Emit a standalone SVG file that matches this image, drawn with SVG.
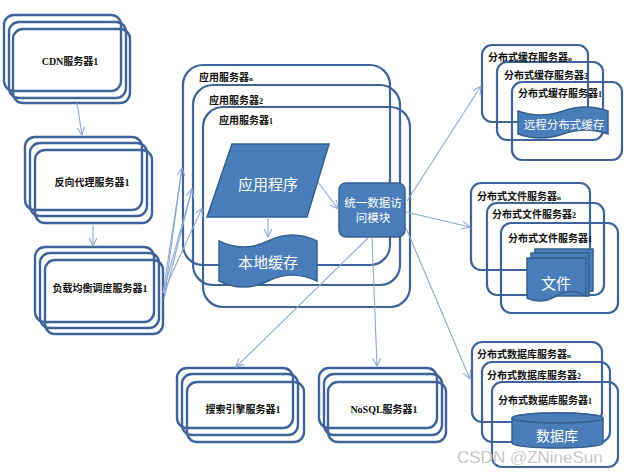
<svg xmlns="http://www.w3.org/2000/svg" width="628" height="474" viewBox="0 0 628 474">
<defs>
<style>
.box{fill:none;stroke:#3e6499;stroke-width:2.4}
.grp{fill:none;stroke:#3e6499;stroke-width:2.2}
.shape{fill:#4a7ebb;stroke:#36608f;stroke-width:1.5}
.lbl{font-family:"Liberation Serif","Noto Sans CJK SC",serif;font-weight:bold;font-size:10px;fill:#111}
.mid{text-anchor:middle}
.wt{font-family:"Liberation Serif","Noto Sans CJK SC",serif;fill:#fff;text-anchor:middle}
.con{fill:none;stroke:#8eaad4;stroke-width:1.1}
</style>
<marker id="ah" markerWidth="9" markerHeight="9" refX="8" refY="4" orient="auto" markerUnits="userSpaceOnUse">
<path d="M0,0 L8,4 L0,8" fill="none" stroke="#8eaad4" stroke-width="1.1"/>
</marker>
</defs>
<rect width="628" height="474" fill="#fff"/>

<g id="cdn">
<rect class="box" x="4" y="15" width="117" height="76" rx="10"/>
<rect class="box" x="9" y="22" width="117" height="76" rx="10"/>
<rect class="box" x="13" y="29" width="117" height="74" rx="10"/>
<text class="lbl mid" x="70" y="65">CDN服务器1</text>
</g>

<g id="proxy">
<rect class="box" x="25" y="137" width="117" height="73" rx="10"/>
<rect class="box" x="30" y="143" width="117" height="73" rx="10"/>
<rect class="box" x="35" y="150" width="117" height="73" rx="10"/>
<text class="lbl mid" x="92" y="186">反向代理服务器1</text>
</g>

<g id="lb">
<rect class="box" x="35" y="247" width="119" height="75" rx="10"/>
<rect class="box" x="40" y="253" width="119" height="75" rx="10"/>
<rect class="box" x="45" y="260" width="118" height="74" rx="10"/>
<text class="lbl mid" x="100" y="292">负载均衡调度服务器1</text>
</g>

<g id="search">
<rect class="box" x="177" y="368" width="116" height="60" rx="10"/>
<rect class="box" x="182" y="374" width="116" height="61" rx="10"/>
<rect class="box" x="187" y="382" width="117" height="60" rx="10"/>
<text class="lbl mid" x="243" y="413">搜索引擎服务器1</text>
</g>

<g id="nosql">
<rect class="box" x="319" y="368" width="118" height="60" rx="10"/>
<rect class="box" x="324" y="374" width="118" height="61" rx="10"/>
<rect class="box" x="328" y="382" width="118" height="60" rx="10"/>
<text class="lbl mid" x="384" y="413">NoSQL服务器1</text>
</g>

<g id="app-servers">
<rect class="grp" x="183" y="65" width="207" height="200" rx="20"/>
<rect class="grp" x="193" y="85" width="207" height="200" rx="20"/>
<rect class="grp" x="203" y="107" width="207" height="200" rx="20"/>
<text class="lbl" x="199" y="81">应用服务器<tspan font-size="7">n</tspan></text>
<text class="lbl" x="209" y="104">应用服务器<tspan font-size="8">2</tspan></text>
<text class="lbl" x="219" y="124">应用服务器<tspan font-size="8">1</tspan></text>
</g>

<g id="app-program">
<polygon class="shape" points="232,144 329,144 307,217 207,217"/>
<text class="wt" x="268" y="190" font-size="15">应用程序</text>
</g>

<g id="local-cache">
<path class="shape" d="M219,241 Q243.5,253 268,241 Q292.5,229 317,241 L317,281 Q292.5,269 268,281 Q243.5,293 219,281 Z"/>
<text class="wt" x="268" y="268" font-size="15">本地缓存</text>
</g>

<g id="data-access">
<rect class="shape" x="339" y="183" width="66" height="54" rx="7"/>
<text class="wt" x="373" y="207" font-size="11.5">统一数据访</text>
<text class="wt" x="373" y="222" font-size="11.5">问模块</text>
</g>

<g id="cache-servers">
<rect class="grp" x="482" y="45" width="106" height="77" rx="10"/>
<rect class="grp" x="497" y="62" width="106" height="78" rx="10"/>
<rect class="grp" x="512" y="82" width="110" height="78" rx="10"/>
<text class="lbl" x="488" y="61">分布式缓存服务器<tspan font-size="7">n</tspan></text>
<text class="lbl" x="504" y="79">分布式缓存服务器<tspan font-size="8">2</tspan></text>
<text class="lbl" x="518" y="97">分布式缓存服务器<tspan font-size="8">1</tspan></text>
<path class="shape" d="M518,111 Q540.5,119 563,111 Q585.5,103 608,111 L608,134 Q585.5,126 563,134 Q540.5,142 518,134 Z"/>
<text class="wt" x="564" y="129" font-size="11.5">远程分布式缓存</text>
</g>

<g id="file-servers">
<rect class="grp" x="471" y="183" width="119" height="87" rx="10"/>
<rect class="grp" x="487" y="203" width="117" height="92" rx="10"/>
<rect class="grp" x="501" y="223" width="117" height="90" rx="10"/>
<text class="lbl" x="477" y="200">分布式文件服务器<tspan font-size="7">n</tspan></text>
<text class="lbl" x="492" y="218">分布式文件服务器<tspan font-size="8">2</tspan></text>
<text class="lbl" x="508" y="242">分布式文件服务器<tspan font-size="8">1</tspan></text>
<rect class="shape" x="535" y="249" width="58" height="42"/>
<rect class="shape" x="531" y="253" width="58" height="43"/>
<path class="shape" d="M527,258 H586 V296 Q571,287 556,296 Q541,305 527,298 Z"/>
<text class="wt" x="556" y="289" font-size="15">文件</text>
</g>

<g id="db-servers">
<rect class="grp" x="472" y="342" width="130" height="80" rx="10"/>
<rect class="grp" x="482" y="362" width="128" height="80" rx="10"/>
<rect class="grp" x="492" y="382" width="126" height="85" rx="10"/>
<text class="lbl" x="477" y="358">分布式数据库服务器<tspan font-size="7">n</tspan></text>
<text class="lbl" x="487" y="379">分布式数据库服务器<tspan font-size="8">2</tspan></text>
<text class="lbl" x="498" y="404">分布式数据库服务器<tspan font-size="8">1</tspan></text>
<path class="shape" d="M512,418 L512,443 A45.5,5 0 0 0 603,443 L603,418 A45.5,5 0 0 0 512,418 Z"/>
<ellipse class="shape" cx="557.5" cy="418" rx="45.5" ry="5"/>
<text class="wt" x="557" y="441" font-size="14">数据库</text>
</g>

<g id="connectors">
<line class="con" x1="77" y1="103" x2="82" y2="135" marker-end="url(#ah)"/>
<line class="con" x1="93" y1="225" x2="93" y2="246" marker-end="url(#ah)"/>
<line class="con" x1="163" y1="293" x2="182" y2="168" marker-end="url(#ah)"/>
<line class="con" x1="163" y1="293" x2="192" y2="189" marker-end="url(#ah)"/>
<line class="con" x1="163" y1="293" x2="202" y2="208" marker-end="url(#ah)"/>
<line class="con" x1="164" y1="299" x2="182" y2="168"/>
<line class="con" x1="164" y1="299" x2="192" y2="189"/>
<line class="con" x1="268" y1="217" x2="268" y2="237" marker-end="url(#ah)"/>
<line class="con" x1="318" y1="182" x2="338" y2="209" marker-end="url(#ah)"/>
<line class="con" x1="407" y1="201" x2="481" y2="86" marker-end="url(#ah)"/>
<line class="con" x1="406" y1="212" x2="470" y2="227" marker-end="url(#ah)"/>
<line class="con" x1="406" y1="228" x2="470" y2="379" marker-end="url(#ah)"/>
<line class="con" x1="368" y1="238" x2="236" y2="367" marker-end="url(#ah)"/>
<line class="con" x1="372" y1="238" x2="377" y2="366" marker-end="url(#ah)"/>
</g>

<text x="457" y="463" font-family="Liberation Sans, Arial, sans-serif" font-size="17" fill="#b4b4b4" stroke="#fff" stroke-width="0.3">CSDN @ZNineSun</text>
</svg>
